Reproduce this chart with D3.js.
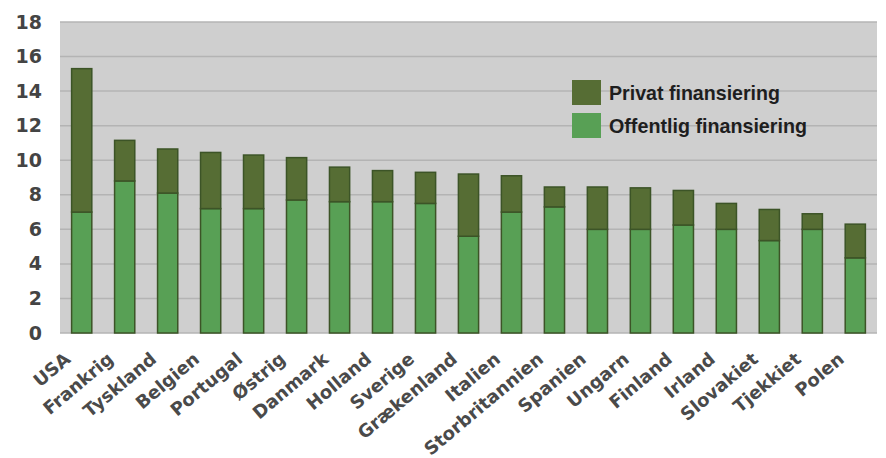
<!DOCTYPE html>
<html>
<head>
<meta charset="utf-8">
<script src="https://cdn.jsdelivr.net/npm/d3@7"></script>
<style>
  body { margin: 0; background: #fff; }
  svg { display: block; font-family: "Liberation Sans", Arial, sans-serif; }
</style>
</head>
<body>
<div id="chart"></div>
<script>
const countries = ["USA", "Frankrig", "Tyskland", "Belgien", "Portugal", "Østrig", "Danmark", "Holland",
  "Sverige", "Grækenland", "Italien", "Storbritannien", "Spanien", "Ungarn", "Finland", "Irland",
  "Slovakiet", "Tjekkiet", "Polen"];
const offentlig = [7.0, 8.8, 8.1, 7.2, 7.2, 7.7, 7.6, 7.6, 7.5, 5.6, 7.0, 7.3, 6.0, 6.0, 6.25, 6.0, 5.35, 6.0, 4.35];
const privat = [8.3, 2.35, 2.55, 3.25, 3.1, 2.45, 2.0, 1.8, 1.8, 3.6, 2.1, 1.15, 2.45, 2.4, 2.0, 1.5, 1.8, 0.9, 1.95];
const yTicks = [0, 2, 4, 6, 8, 10, 12, 14, 16, 18];
const seriesNames = ["Privat finansiering", "Offentlig finansiering"];

const width = 886, height = 458;
const margin = { top: 22, right: 9, bottom: 125, left: 60 };

const svg = d3.select("#chart").append("svg")
  .attr("width", width)
  .attr("height", height);

const x = d3.scaleBand()
  .domain(countries)
  .range([margin.left, width - margin.right])
  .paddingInner(0.53)
  .paddingOuter(0.27);

const y = d3.scaleLinear()
  .domain([0, 18])
  .range([height - margin.bottom, margin.top]);

// plot background
svg.append("rect")
  .attr("x", margin.left)
  .attr("y", margin.top)
  .attr("width", width - margin.left - margin.right)
  .attr("height", height - margin.top - margin.bottom)
  .attr("fill", "#cfcfcf");

// gridlines
svg.append("g")
  .selectAll("line")
  .data(yTicks)
  .join("line")
  .attr("x1", margin.left)
  .attr("x2", width - margin.right)
  .attr("y1", d => y(d))
  .attr("y2", d => y(d))
  .attr("stroke", "#b4b4b4")
  .attr("stroke-width", 1.5);

// y axis
const yAxis = svg.append("g")
  .attr("transform", `translate(${margin.left},0)`)
  .call(d3.axisLeft(y).tickValues(yTicks).tickSize(0).tickPadding(18));
yAxis.select(".domain").remove();
yAxis.selectAll("text")
  .attr("font-size", 19)
  .attr("font-weight", "bold")
  .attr("fill", "#444")
  .attr("font-family", "DejaVu Sans, sans-serif");

const data = countries.map((c, i) => ({ country: c, off: offentlig[i], priv: privat[i] }));
const stack = d3.stack().keys(["off", "priv"])(data);
const colors = { off: "#58a055", priv: "#566d34" };

svg.append("g")
  .selectAll("g")
  .data(stack)
  .join("g")
  .attr("fill", d => colors[d.key])
  .selectAll("rect")
  .data(d => d)
  .join("rect")
  .attr("x", d => x(d.data.country))
  .attr("y", d => y(d[1]))
  .attr("width", x.bandwidth())
  .attr("height", d => y(d[0]) - y(d[1]))
  .attr("stroke", "#3c5427")
  .attr("stroke-width", 1.5);

// x labels
svg.append("g")
  .selectAll("text")
  .data(countries)
  .join("text")
  .attr("transform", d => `translate(${x(d) + x.bandwidth() / 2 - 10},${height - margin.bottom + 28}) rotate(-40)`)
  .attr("text-anchor", "end")
  .attr("font-family", "DejaVu Sans, sans-serif")
  .attr("font-weight", "bold")
  .attr("font-size", 18)
  .attr("fill", "#4a4a4a")
  .text(d => d);

// legend
const legend = svg.append("g")
  .attr("transform", "translate(572,80)");
const legendColors = [colors.priv, colors.off];
const legendWidths = [171, 198];
seriesNames.forEach((name, i) => {
  const row = legend.append("g").attr("transform", `translate(0,${i * 33})`);
  row.append("rect")
    .attr("width", 29)
    .attr("height", 25)
    .attr("fill", legendColors[i]);
  row.append("text")
    .attr("x", 37)
    .attr("y", 20)
    .attr("font-size", 21)
    .attr("font-weight", "bold")
    .attr("fill", "#1e1e1e")
    .attr("textLength", legendWidths[i])
    .attr("lengthAdjust", "spacingAndGlyphs")
    .text(name);
});
</script>
</body>
</html>
